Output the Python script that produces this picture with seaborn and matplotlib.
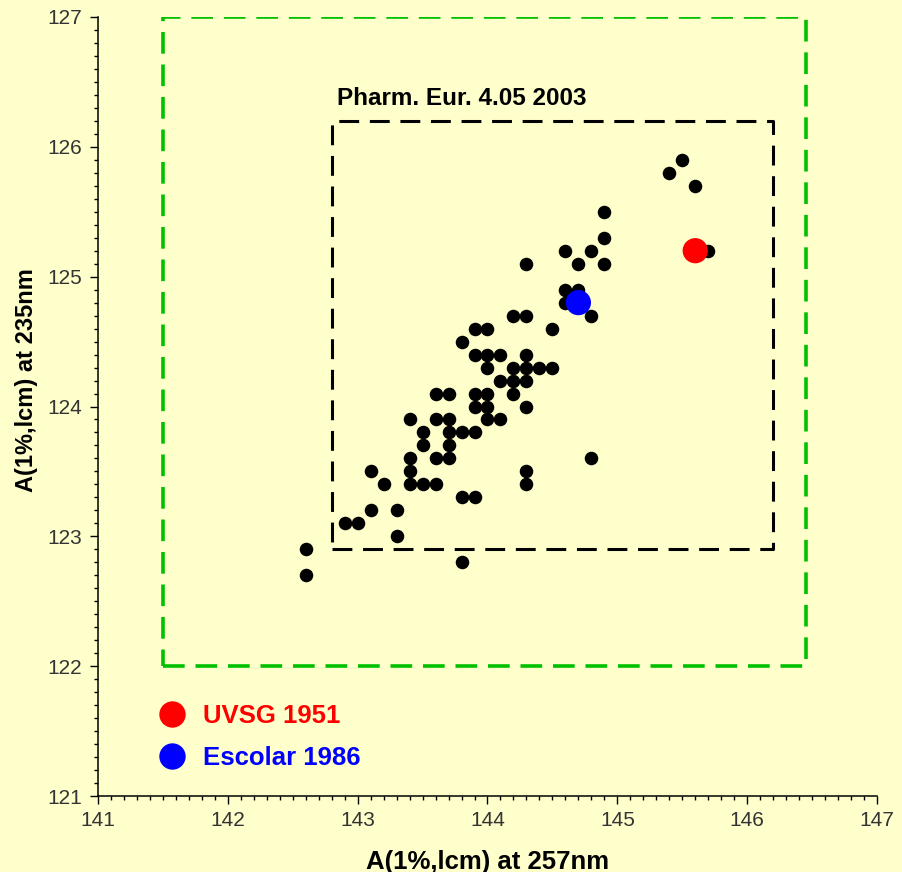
import matplotlib
matplotlib.use("Agg")
import matplotlib.pyplot as plt
from matplotlib.lines import Line2D
from matplotlib.ticker import MultipleLocator
import seaborn as sns
import pandas as pd

# ---------------- data ----------------
x_samples = [145.5, 145.4, 145.6, 144.9, 144.9, 144.6, 144.8, 145.7, 144.3, 144.7,
             144.9, 144.6, 144.7, 144.6, 144.8, 144.2, 144.3, 143.9, 144.0, 144.5,
             143.8, 143.9, 144.0, 144.1, 144.3, 144.0, 144.2, 144.3, 144.4, 144.5,
             144.1, 144.2, 144.3, 143.6, 143.7, 143.9, 144.0, 144.2, 143.9, 144.0,
             144.3, 143.4, 143.6, 143.7, 144.0, 144.1, 143.5, 143.7, 143.8, 143.9,
             143.5, 143.7, 143.4, 143.6, 143.7, 144.8, 143.1, 143.4, 144.3, 143.2,
             143.4, 143.5, 143.6, 144.3, 143.8, 143.9, 143.1, 143.3, 142.9, 143.0,
             143.3, 142.6, 142.6, 143.8]
y_samples = [125.9, 125.8, 125.7, 125.5, 125.3, 125.2, 125.2, 125.2, 125.1, 125.1,
             125.1, 124.9, 124.9, 124.8, 124.7, 124.7, 124.7, 124.6, 124.6, 124.6,
             124.5, 124.4, 124.4, 124.4, 124.4, 124.3, 124.3, 124.3, 124.3, 124.3,
             124.2, 124.2, 124.2, 124.1, 124.1, 124.1, 124.1, 124.1, 124.0, 124.0,
             124.0, 123.9, 123.9, 123.9, 123.9, 123.9, 123.8, 123.8, 123.8, 123.8,
             123.7, 123.7, 123.6, 123.6, 123.6, 123.6, 123.5, 123.5, 123.5, 123.4,
             123.4, 123.4, 123.4, 123.4, 123.3, 123.3, 123.2, 123.2, 123.1, 123.1,
             123.0, 122.9, 122.7, 122.8]

ref_labels = ["UVSG 1951", "Escolar 1986"]
ref_x = [145.6, 144.7]
ref_y = [125.2, 124.8]
ref_colors = ["#FF0000", "#0000FF"]

# limit boxes (x0, x1, y0, y1)
outer_box = [141.5, 146.45, 122.0, 127.0]
pharm_box = [142.8, 146.2, 122.9, 126.2]
pharm_label = "Pharm. Eur. 4.05 2003"

x_label = "A(1%,lcm) at 257nm"
y_label = "A(1%,lcm) at 235nm"
x_range = (141, 147)
y_range = (121, 127)

# ---------------- style ----------------
bg = "#FFFFCC"
sns.set_theme(style="ticks")
plt.rcParams["font.family"] = ["Liberation Sans", "DejaVu Sans"]

fig = plt.figure(figsize=(9.02, 8.72), dpi=100, facecolor=bg)
ax = fig.add_axes([98 / 902, 1 - 796 / 872, 779 / 902, 779 / 872])
ax.set_facecolor(bg)

def box_path(b):
    return [b[0], b[1], b[1], b[0], b[0]], [b[2], b[2], b[3], b[3], b[2]]

bx, by = box_path(outer_box)
ax.plot(bx, by, color="#00C000", lw=2.6, dashes=(6, 3), zorder=2,
        dash_capstyle="butt")
bx, by = box_path(pharm_box)
ax.plot(bx, by, color="black", lw=2.2, dashes=(6.5, 3.5), zorder=2,
        dash_capstyle="butt")
ax.text(pharm_box[0] + 0.04, 126.322, pharm_label, fontsize=17.5,
        fontweight="bold", color="black", va="baseline", ha="left")

df = pd.DataFrame({"x": x_samples, "y": y_samples})
sns.scatterplot(data=df, x="x", y="y", color="black", s=95, linewidth=0,
                ax=ax, zorder=3, legend=False)

ref_df = pd.DataFrame({"x": ref_x, "y": ref_y, "src": ref_labels})
sns.scatterplot(data=ref_df, x="x", y="y", hue="src", palette=ref_colors,
                s=330, linewidth=0, ax=ax, zorder=4, legend=False)

handles = [Line2D([], [], marker="o", ls="none", markersize=19,
                  markerfacecolor=c, markeredgewidth=0) for c in ref_colors]
leg = ax.legend(handles, ref_labels, loc="upper left",
                bbox_to_anchor=(0.0583, 0.134), frameon=False,
                prop={"size": 18.5, "weight": "bold"}, labelcolor=ref_colors,
                handletextpad=0.6, labelspacing=0.68, borderpad=0,
                handlelength=1.2)

ax.set_xlim(*x_range)
ax.set_ylim(*y_range)
ax.xaxis.set_major_locator(MultipleLocator(1))
ax.xaxis.set_minor_locator(MultipleLocator(0.1))
ax.yaxis.set_major_locator(MultipleLocator(1))
ax.yaxis.set_minor_locator(MultipleLocator(0.1))

for s in ["top", "right"]:
    ax.spines[s].set_visible(False)
for s in ["left", "bottom"]:
    ax.spines[s].set_color("black")
    ax.spines[s].set_linewidth(1.1)

ax.tick_params(which="major", length=6, width=1.0, color="black",
               labelsize=15, labelcolor="#333333")
ax.tick_params(which="minor", length=3, width=1.0, color="black")
ax.tick_params(axis="x", which="major", pad=5)
ax.tick_params(axis="y", which="major", pad=5.5)

ax.set_xlabel(x_label, fontsize=18.5, fontweight="bold", color="black")
ax.set_ylabel(y_label, fontsize=17, fontweight="bold", color="black")
ax.xaxis.set_label_coords(0.5, -0.069)
ax.yaxis.set_label_coords(-0.077, 0.534)

fig.savefig("out.png", dpi=100, facecolor=bg)
